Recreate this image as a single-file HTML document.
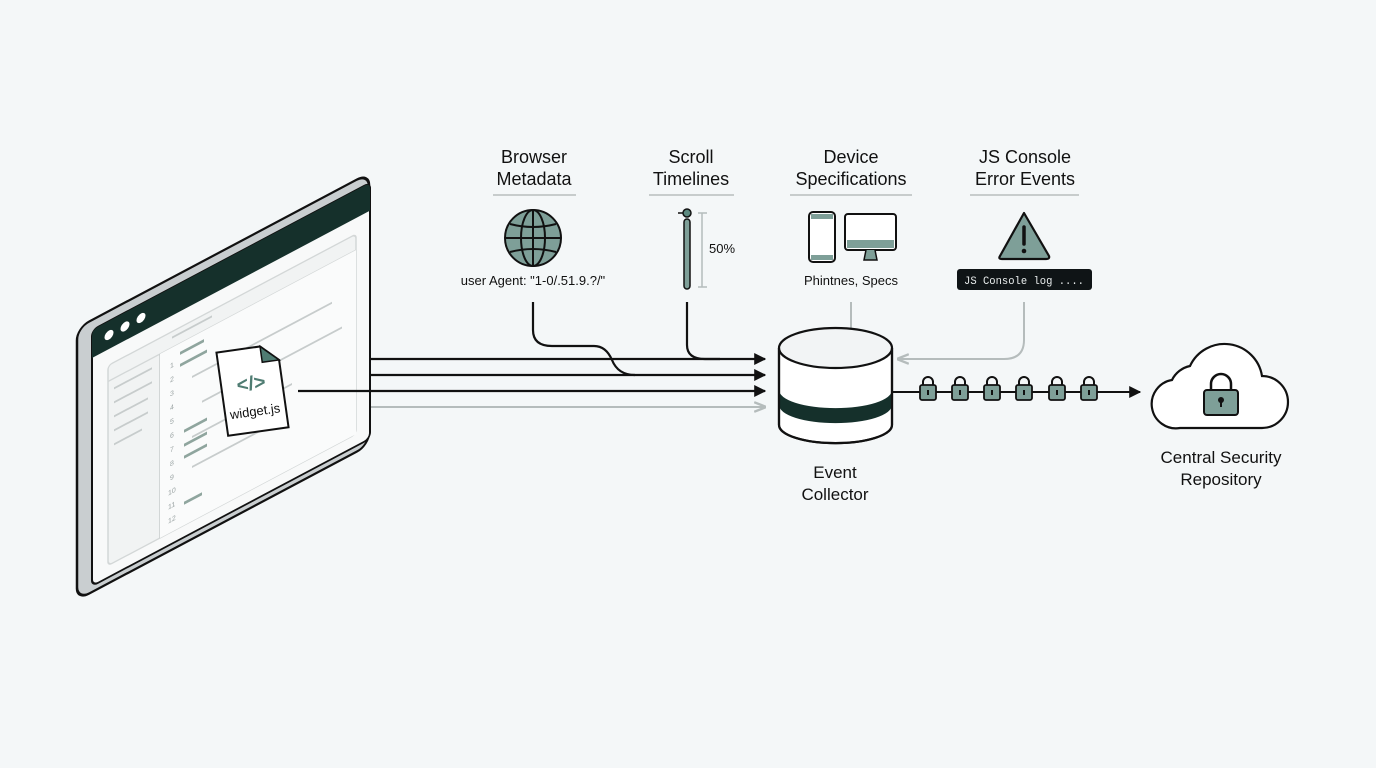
<!DOCTYPE html>
<html><head><meta charset="utf-8"><style>
html,body{margin:0;padding:0;background:#f4f7f8;}
svg{display:block;font-family:"Liberation Sans",sans-serif;}
</style></head><body>
<svg width="1376" height="768" viewBox="0 0 1376 768" xmlns="http://www.w3.org/2000/svg">
<defs>
<marker id="ahd" viewBox="0 0 10 10" refX="9" refY="5" markerWidth="12" markerHeight="12" orient="auto" markerUnits="userSpaceOnUse"><path d="M0,0 L10,5 L0,10 z" fill="#111"/></marker>
<marker id="ahg" viewBox="0 0 10 10" refX="9" refY="5" markerWidth="12" markerHeight="12" orient="auto" markerUnits="userSpaceOnUse"><path d="M0,1 L10,5 L0,9" fill="none" stroke="#b5bcbc" stroke-width="2"/></marker>
</defs>
<rect width="1376" height="768" fill="#f4f7f8"/>

<!-- Browser window -->
<g transform="matrix(1,-0.53,0,1,92,330)">
  <rect x="-15" y="-10" width="292" height="272" rx="12" fill="#c9ced0" stroke="#111" stroke-width="2.5"/>
  <rect x="0" y="0" width="278" height="256" rx="6" fill="#f8f9f9" stroke="#111" stroke-width="2"/>
  <path d="M6,0 H272 Q278,0 278,6 V28 H0 V6 Q0,0 6,0 z" fill="#15302b"/>
  <circle cx="17" cy="14" r="4.5" fill="#fff"/>
  <circle cx="33" cy="14" r="4.5" fill="#fff"/>
  <circle cx="49" cy="14" r="4.5" fill="#fff"/>
  <rect x="16" y="44" width="248" height="200" rx="4" fill="#f1f3f3" stroke="#d3d7d7" stroke-width="1.5"/>
  <line x1="16" y1="60" x2="264" y2="60" stroke="#d3d7d7" stroke-width="1.5"/>
  <line x1="68" y1="60" x2="68" y2="244" stroke="#c7cccc" stroke-width="1.5"/>
  <rect x="68" y="60" width="196" height="184" fill="#fafbfb"/>
  <g stroke="#c7cccc" stroke-width="2">
    <line x1="22" y1="70" x2="60" y2="70"/><line x1="22" y1="84" x2="60" y2="84"/>
    <line x1="22" y1="98" x2="56" y2="98"/><line x1="22" y1="112" x2="56" y2="112"/>
    <line x1="22" y1="126" x2="50" y2="126"/>
    <line x1="80" y1="50" x2="120" y2="50"/>
    <line x1="100" y1="100" x2="240" y2="100"/><line x1="110" y1="130" x2="250" y2="130"/>
    <line x1="100" y1="160" x2="200" y2="160"/><line x1="100" y1="190" x2="180" y2="190"/>
  </g>
  <g stroke="#8fa59e" stroke-width="3">
    <line x1="88" y1="70" x2="112" y2="70"/><line x1="88" y1="82" x2="115" y2="82"/>
    <line x1="92" y1="150" x2="115" y2="150"/><line x1="92" y1="164" x2="115" y2="164"/>
    <line x1="92" y1="176" x2="115" y2="176"/><line x1="92" y1="222" x2="110" y2="222"/>
  </g>
  <g font-size="7" fill="#9aa3a3">
    <text x="78" y="80">1</text><text x="78" y="94">2</text><text x="78" y="108">3</text>
    <text x="78" y="122">4</text><text x="78" y="136">5</text><text x="78" y="150">6</text>
    <text x="78" y="164">7</text><text x="78" y="178">8</text><text x="78" y="192">9</text>
    <text x="76" y="206">10</text><text x="76" y="220">11</text><text x="76" y="234">12</text>
  </g>
</g>

<!-- widget.js file -->
<g transform="rotate(-8 252 390)">
  <path d="M222,348 H266 L283,364 V432 H222 z" fill="#fff" stroke="#111" stroke-width="2"/>
  <path d="M266,348 V364 H283 z" fill="#4f7c72" stroke="#111" stroke-width="1.5"/>
  <text x="252" y="390" text-anchor="middle" font-size="20" fill="#4f7c72" font-weight="bold">&lt;/&gt;</text>
  <text x="252" y="416" text-anchor="middle" font-size="13" fill="#111">widget.js</text>
</g>

<!-- arrows to collector -->
<g stroke="#111" stroke-width="2.2" fill="none">
  <line x1="371" y1="359" x2="765" y2="359" marker-end="url(#ahd)"/>
  <line x1="371" y1="375" x2="765" y2="375" marker-end="url(#ahd)"/>
  <line x1="298" y1="391" x2="765" y2="391" marker-end="url(#ahd)"/>
  <path d="M533,302 V330 Q533,346 552,346 H594 Q606,346 612,360 Q618,375 635,375"/>
  <path d="M687,302 V345 Q687,359 705,359 H720"/>
</g>
<line x1="371" y1="407" x2="765" y2="407" stroke="#b5bcbc" stroke-width="2" marker-end="url(#ahg)"/>
<line x1="851" y1="302" x2="851" y2="328" stroke="#b5bcbc" stroke-width="2"/>
<path d="M1024,302 V340 Q1024,359 1004,359 H898" stroke="#b5bcbc" stroke-width="2" fill="none" marker-end="url(#ahg)"/>

<!-- headers -->
<g font-size="18" fill="#111" text-anchor="middle">
  <text x="534" y="163">Browser</text><text x="534" y="185">Metadata</text>
  <text x="691" y="163">Scroll</text><text x="691" y="185">Timelines</text>
  <text x="851" y="163">Device</text><text x="851" y="185">Specifications</text>
  <text x="1025" y="163">JS Console</text><text x="1025" y="185">Error Events</text>
</g>
<g stroke="#c7cccc" stroke-width="2">
  <line x1="493" y1="195" x2="576" y2="195"/><line x1="649" y1="195" x2="734" y2="195"/>
  <line x1="790" y1="195" x2="912" y2="195"/><line x1="970" y1="195" x2="1079" y2="195"/>
</g>

<!-- globe -->
<g stroke="#111" stroke-width="2" fill="none">
  <circle cx="533" cy="238" r="28" fill="#7e9f98"/>
  <ellipse cx="533" cy="238" rx="12" ry="28"/>
  <line x1="533" y1="210" x2="533" y2="266"/>
  <line x1="505" y1="238" x2="561" y2="238"/>
  <path d="M510,224 Q533,230 556,224"/><path d="M510,252 Q533,246 556,252"/>
</g>
<text x="533" y="285" text-anchor="middle" font-size="13" fill="#111">user Agent: "1-0/.51.9.?/"</text>

<!-- scroll -->
<rect x="684" y="219" width="6" height="70" rx="3" fill="#7e9f98" stroke="#111" stroke-width="1.5"/>
<circle cx="687" cy="213" r="4" fill="#5d8a80" stroke="#111" stroke-width="1.5"/>
<line x1="678" y1="213" x2="683" y2="213" stroke="#111" stroke-width="1.5"/>
<g stroke="#b5bcbc" stroke-width="1.5"><line x1="702" y1="213" x2="702" y2="287"/><line x1="698" y1="213" x2="707" y2="213"/><line x1="698" y1="287" x2="707" y2="287"/></g>
<text x="709" y="253" font-size="13" fill="#111">50%</text>

<!-- devices -->
<rect x="809" y="212" width="26" height="50" rx="4" fill="#fff" stroke="#111" stroke-width="2"/>
<rect x="811" y="214" width="22" height="5" fill="#7e9f98"/><rect x="811" y="255" width="22" height="5" fill="#7e9f98"/>
<rect x="845" y="214" width="51" height="36" rx="3" fill="#fff" stroke="#111" stroke-width="2"/>
<rect x="847" y="240" width="47" height="8" fill="#7e9f98"/>
<path d="M866,250 L864,260 H877 L875,250" fill="#7e9f98" stroke="#111" stroke-width="1.5"/>
<text x="851" y="285" text-anchor="middle" font-size="13" fill="#111">Phintnes, Specs</text>

<!-- warning -->
<path d="M1024,213 L1049,256 Q1050,259 1046,259 H1002 Q998,259 1000,256 z" fill="#7e9f98" stroke="#111" stroke-width="2.2" stroke-linejoin="round"/>
<line x1="1024" y1="227" x2="1024" y2="244" stroke="#111" stroke-width="3.5" stroke-linecap="round"/>
<circle cx="1024" cy="251" r="2.3" fill="#111"/>
<rect x="957" y="269" width="135" height="21" rx="3" fill="#0f1416"/>
<text x="964" y="284" font-family="Liberation Mono,monospace" font-size="11" fill="#e8ecec" textLength="120" lengthAdjust="spacingAndGlyphs">JS Console log ....</text>

<!-- cylinder -->
<g stroke="#111" stroke-width="2.2">
  <path d="M779,348 V425 A56,18 0 0 0 892,425 V348" fill="#fff"/>
  <path d="M779,390 A56,18 0 0 0 892,390 V405 A56,18 0 0 1 779,405 z" fill="#15302b" stroke="none"/>
  <ellipse cx="835.5" cy="348" rx="56.5" ry="20" fill="#f2f4f5"/>
  <path d="M779,348 V425 A56,18 0 0 0 892,425 V348" fill="none"/>
</g>
<g font-size="17" fill="#111" text-anchor="middle">
  <text x="835" y="478">Event</text><text x="835" y="500">Collector</text>
</g>

<!-- lock chain -->
<line x1="892" y1="392" x2="1140" y2="392" stroke="#111" stroke-width="2" marker-end="url(#ahd)"/>
<g>
  <g transform="translate(928,0)"><path d="M-5,386 V382 A5,5 0 0 1 5,382 V386" fill="none" stroke="#111" stroke-width="2"/><rect x="-8" y="385" width="16" height="15" rx="2" fill="#7e9f98" stroke="#111" stroke-width="1.8"/><rect x="-1" y="390" width="2" height="5" fill="#111"/></g>
  <g transform="translate(960,0)"><path d="M-5,386 V382 A5,5 0 0 1 5,382 V386" fill="none" stroke="#111" stroke-width="2"/><rect x="-8" y="385" width="16" height="15" rx="2" fill="#7e9f98" stroke="#111" stroke-width="1.8"/><rect x="-1" y="390" width="2" height="5" fill="#111"/></g>
  <g transform="translate(992,0)"><path d="M-5,386 V382 A5,5 0 0 1 5,382 V386" fill="none" stroke="#111" stroke-width="2"/><rect x="-8" y="385" width="16" height="15" rx="2" fill="#7e9f98" stroke="#111" stroke-width="1.8"/><rect x="-1" y="390" width="2" height="5" fill="#111"/></g>
  <g transform="translate(1024,0)"><path d="M-5,386 V382 A5,5 0 0 1 5,382 V386" fill="none" stroke="#111" stroke-width="2"/><rect x="-8" y="385" width="16" height="15" rx="2" fill="#7e9f98" stroke="#111" stroke-width="1.8"/><rect x="-1" y="390" width="2" height="5" fill="#111"/></g>
  <g transform="translate(1057,0)"><path d="M-5,386 V382 A5,5 0 0 1 5,382 V386" fill="none" stroke="#111" stroke-width="2"/><rect x="-8" y="385" width="16" height="15" rx="2" fill="#7e9f98" stroke="#111" stroke-width="1.8"/><rect x="-1" y="390" width="2" height="5" fill="#111"/></g>
  <g transform="translate(1089,0)"><path d="M-5,386 V382 A5,5 0 0 1 5,382 V386" fill="none" stroke="#111" stroke-width="2"/><rect x="-8" y="385" width="16" height="15" rx="2" fill="#7e9f98" stroke="#111" stroke-width="1.8"/><rect x="-1" y="390" width="2" height="5" fill="#111"/></g>
</g>

<!-- cloud -->
<path d="M1180,428 H1262 A26,26 0 0 0 1262,376 A38,38 0 0 0 1190,366 A26,26 0 0 0 1172,380 A24,24 0 0 0 1180,428 z" fill="#fff" stroke="#111" stroke-width="2.2"/>
<path d="M1211,391 V384 A10,10 0 0 1 1231,384 V391" fill="none" stroke="#111" stroke-width="2.5"/>
<rect x="1204" y="390" width="34" height="25" rx="3" fill="#7e9f98" stroke="#111" stroke-width="2"/>
<circle cx="1221" cy="400" r="3" fill="#111"/><rect x="1220" y="400" width="2" height="7" fill="#111"/>
<g font-size="17" fill="#111" text-anchor="middle">
  <text x="1221" y="463">Central Security</text><text x="1221" y="485">Repository</text>
</g>
</svg>
</body></html>
